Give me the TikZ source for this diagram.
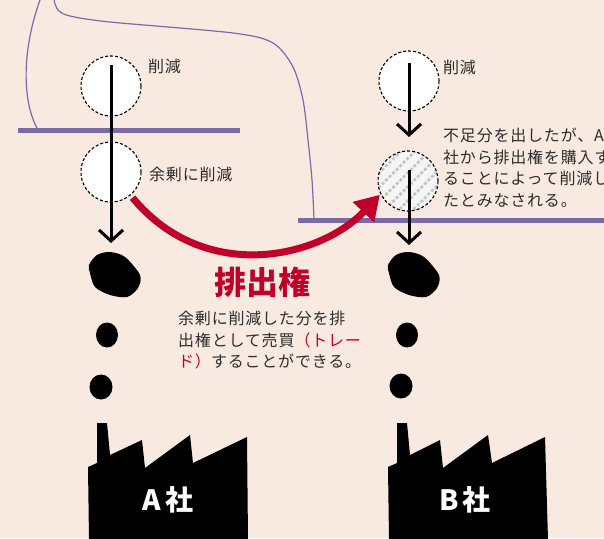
\documentclass[tikz,border=0pt]{standalone}
\usepackage{fontspec}
\usepackage{tikz}
\usetikzlibrary{arrows.meta, positioning, patterns.meta}
\newfontfamily\jp{Noto Sans CJK JP}
\definecolor{mybg}{RGB}{249,234,225}
\definecolor{mypurple}{RGB}{124,106,168}
\definecolor{myred}{RGB}{192,0,40}
\definecolor{mytext}{RGB}{45,45,45}
\definecolor{myhatch}{RGB}{196,196,196}
\tikzset{
  cutcirc/.style={circle, draw=black, fill=white, dash pattern=on 3pt off 2pt,
    line width=1.1pt, minimum size=60pt, inner sep=0pt},
  buycirc/.style={circle, draw=black, dash pattern=on 3pt off 2pt,
    line width=1.1pt, minimum size=60pt, inner sep=0pt,
    preaction={fill=white!96!black},
    pattern={Lines[angle=45, distance=10pt, line width=2.6pt]}, pattern color=myhatch},
  note/.style={font=\jp\fontsize{16}{21.5}\selectfont\addfontfeature{LetterSpace=5},
    text=mytext, inner sep=0pt, align=left},
  firm/.style={font=\jp\bfseries\fontsize{28}{28}\selectfont, text=white, inner sep=0pt},
  flow/.style={-{Straight Barb[length=11pt, width=24pt]}, line width=3pt},
  tradearrow/.style={-{Triangle[length=24pt, width=28pt]}, line width=7pt, draw=myred},
  capline/.style={draw=mypurple, line width=5pt},
  bracket/.style={draw=mypurple, line width=1.2pt}
}

\begin{document}
\begin{tikzpicture}[x=1pt, y=-1pt]
  \useasboundingbox (0,0) rectangle (604,538);
  \fill[mybg] (0,0) rectangle (604,538);
  \clip (0,0) rectangle (604,538);

  % Brackets from the heading down to the two caps
  \draw[bracket] (40,0) .. controls (22,50) and (22,100) .. (37,128);
  \draw[bracket] plot[smooth] coordinates {(54,0) (58,10) (70,16) (110,22) (233,33)
    (273,43) (293,67) (303,100) (308,140) (312,180) (314,219)};

  % Emission caps
  \draw[capline] (18,130) -- (240,130);
  \draw[capline] (298,220) -- (604,220);

  % Company A (surplus cut)
  \node[cutcirc] (a1) at (111,86) {};
  \node[cutcirc] (a2) at (111,172) {};
  \node[note, anchor=west] (a1lbl) at (148,66) {削減};
  \node[note, anchor=west] (a2lbl) at (149,174) {余剰に削減};
  \coordinate (atop) at (111,65);
  \coordinate (asmoke) at (111,243);
  \draw[flow] (atop) -- (asmoke);

  \fill plot[smooth cycle] coordinates {(89,265) (97,255) (110,252) (125,257)
    (140,275) (138,288) (127,297) (110,295) (95,287) (90,273)};
  \fill (107,335) ellipse [x radius=11, y radius=12.5];
  \fill (101,387) ellipse [x radius=11.5, y radius=12.5];

  \fill (88,467) -- (97,463) -- (97,423) -- (107,423) -- (110,455) -- (142,440)
    -- (145,468) -- (190,435) -- (193,463) -- (247,437) -- (248,540) -- (89,540) -- cycle;
  \node[firm] (firmA) at (168,500) {A\hspace{4pt}社};

  % Company B (shortfall bought)
  \node[cutcirc] (b1) at (409,81) {};
  \node[buycirc] (b2) at (408,181) {};
  \node[note, anchor=west] (b1lbl) at (443,67) {削減};
  \node[note, anchor=north west] (bnote) at (443,128)
    {不足分を出したが、A\\社から排出権を購入す\\ることによって削減し\\たとみなされる。};
  \coordinate (btop) at (409,63);
  \coordinate (bin) at (409,137);
  \coordinate (bmid) at (409,170);
  \coordinate (bsmoke) at (409,245);
  \draw[flow] (btop) -- (bin);
  \draw[flow] (bmid) -- (bsmoke);

  \fill plot[smooth cycle] coordinates {(388,265) (396,255) (409,252) (424,257)
    (439,275) (437,288) (426,297) (409,295) (394,287) (389,273)};
  \fill (407,335) ellipse [x radius=11, y radius=12.5];
  \fill (401,386) ellipse [x radius=11.5, y radius=12.5];

  \fill (388,467) -- (397,463) -- (397,423) -- (407,423) -- (410,455) -- (440,440)
    -- (443,468) -- (488,435) -- (492,463) -- (545,437) -- (548,540) -- (389,540) -- cycle;
  \node[firm] (firmB) at (465,500) {B\hspace{4pt}社};

  % Trading the surplus
  \node[font=\jp\bfseries\fontsize{32}{32}\selectfont, text=myred, inner sep=0pt]
    (permit) at (262,282) {排出権};
  \node[note, anchor=north west] (tradenote) at (178,311)
    {余剰に削減した分を排\\出権として売買\textcolor{myred}{（トレー}\\\textcolor{myred}{ド）}することができる。};
  \draw[tradearrow, shorten <=3pt] (a2.-50) .. controls (205,285) and (320,258) .. (b2.206);
\end{tikzpicture}
\end{document}
